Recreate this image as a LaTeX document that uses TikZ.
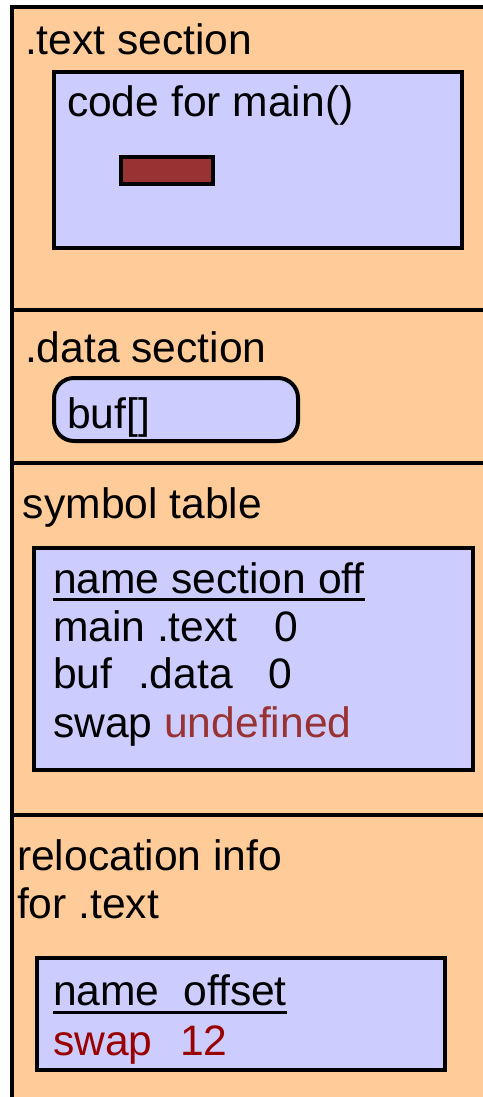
\documentclass[tikz,border=0pt]{standalone}
\usepackage{fontspec}
\setmainfont{Liberation Sans}
\usetikzlibrary{positioning}
\definecolor{sec-orange}{HTML}{FFCC99}
\definecolor{box-blue}{HTML}{CCCCFF}
\definecolor{ref-red}{HTML}{993333}
\definecolor{reloc-red}{HTML}{990000}

\begin{document}
\begin{tikzpicture}[x=1pt, y=-1pt,
  every node/.style={inner sep=0pt, outer sep=0pt},
  lbl/.style={anchor=base west, font=\fontsize{42.6}{48}\selectfont},
  bluebox/.style={draw, line width=4pt, fill=box-blue, anchor=north west},
  rule/.style={line width=4pt}]
\useasboundingbox (0,0) rectangle (482,1097);
% object file frame
\fill[sec-orange] (12,7) rectangle (500,1110);
\draw[rule] (12,1110) -- (12,7) -- (500,7);
\draw[rule] (12,310) -- (500,310);
\draw[rule] (12,463) -- (500,463);
\draw[rule] (12,815) -- (500,815);
% .text
\node[lbl] (textsec) at (25,55) {.text section};
\node[bluebox, minimum width=408pt, minimum height=176pt] (code) at (54,72) {};
\node[lbl] (codelbl) at (67,117) {code for main()};
\node[draw, line width=4pt, fill=ref-red, minimum width=92pt, minimum height=27pt, anchor=north west] (hole) at (121,157) {};
% .data
\node[lbl] (datasec) at (25,362) {.data section};
\node[bluebox, rounded corners=20pt, minimum width=244pt, minimum height=63pt] (buf) at (54,378) {};
\node[lbl] (buflbl) at (67,428) {buf[]};
% symbol table
\node[lbl] (symsec) at (23,518) {symbol table};
\node[bluebox, minimum width=439pt, minimum height=222pt] (symtab) at (34,548) {};
\node[lbl] (symhead) at (53,593) {name section off};
\draw[line width=3pt] ([yshift=-6pt]symhead.base west) -- ([yshift=-6pt]symhead.base east);
\node[lbl] (symmain) at (53,641) {main .text\hspace{25pt} 0};
\node[lbl] (symbuf) at (53,688) {buf\hspace{14pt} .data\hspace{24pt} 0};
\node[lbl] (symswap) at (53,737) {swap \textcolor{ref-red}{undefined}};
% relocation
\node[lbl] (relsec) at (17,870) {relocation info};
\node[lbl] (relsec2) at (17,918) {for .text};
\node[bluebox, minimum width=408pt, minimum height=112pt] (reloc) at (37,958) {};
\node[lbl] (relhead) at (53,1005) {name\hspace{12pt} offset};
\draw[line width=3pt] ([yshift=-7pt]relhead.base west) -- ([yshift=-7pt]relhead.base east);
\node[lbl, text=reloc-red] (relswap) at (53,1055) {swap\hspace{16pt} 12};
\end{tikzpicture}
\end{document}
